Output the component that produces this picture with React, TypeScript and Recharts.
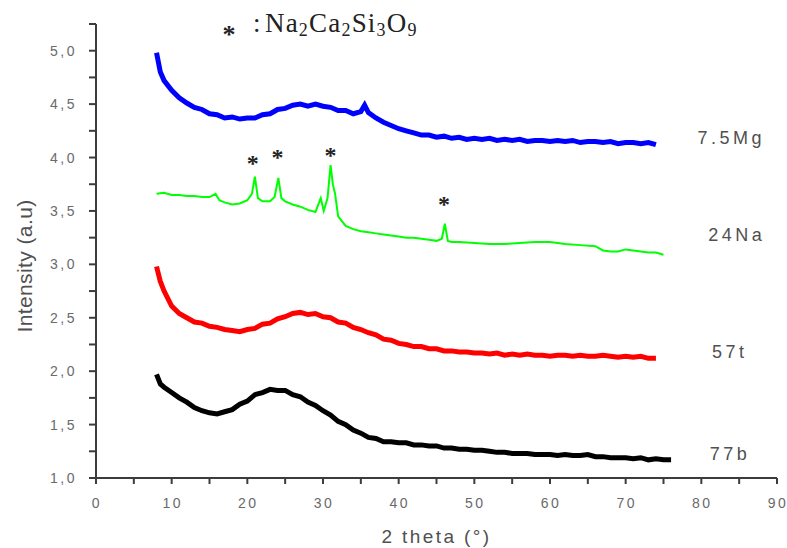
import { LineChart, Line, XAxis, YAxis, ReferenceDot } from 'recharts';

// 2 theta (deg) vs intensity (a.u)
const MG_7_5: [number, number][] = [
  [8, 4.98], [8.5, 4.8], [9, 4.72], [10, 4.63], [11, 4.56], [12, 4.51], [13, 4.47], [14, 4.45], [15, 4.41],
  [16, 4.4], [17, 4.37], [18, 4.38], [19, 4.36], [20, 4.37], [21, 4.37], [22, 4.4], [23, 4.41], [24, 4.45],
  [25, 4.46], [26, 4.49], [27, 4.5], [28, 4.48], [29, 4.5], [30, 4.48], [31, 4.47], [32, 4.44], [33, 4.44],
  [34, 4.41], [35, 4.43], [35.5, 4.49], [36, 4.42], [37, 4.37], [38, 4.33], [39, 4.3], [40, 4.27], [41, 4.25],
  [42, 4.23], [43, 4.21], [44, 4.21], [45, 4.19], [46, 4.2], [47, 4.18], [48, 4.19], [49, 4.17], [50, 4.18],
  [51, 4.17], [52, 4.18], [53, 4.16], [54, 4.17], [55, 4.16], [56, 4.17], [57, 4.15], [58, 4.16], [59, 4.16],
  [60, 4.15], [61, 4.16], [62, 4.15], [63, 4.16], [64, 4.14], [65, 4.15], [66, 4.15], [67, 4.14], [68, 4.15],
  [69, 4.13], [70, 4.14], [71, 4.14], [72, 4.13], [73, 4.14], [74, 4.12],
];

const NA_24: [number, number][] = [
  [8, 3.66], [9, 3.67], [10, 3.65], [11, 3.65], [12, 3.64], [13, 3.64], [14, 3.63], [15, 3.63], [15.8, 3.66],
  [16.3, 3.6], [17, 3.58], [18, 3.56], [19, 3.57], [20, 3.6], [20.6, 3.66], [21, 3.82], [21.4, 3.62], [22, 3.59],
  [23, 3.59], [23.6, 3.63], [24.1, 3.81], [24.5, 3.62], [25, 3.59], [26, 3.56], [27, 3.54], [28, 3.51],
  [29, 3.49], [29.7, 3.62], [30.1, 3.5], [30.6, 3.62], [31, 3.93], [31.3, 3.75], [31.6, 3.66], [32, 3.45],
  [33, 3.36], [34, 3.33], [35, 3.31], [36, 3.3], [37, 3.29], [38, 3.28], [39, 3.27], [40, 3.26], [41, 3.25],
  [42, 3.25], [43, 3.24], [44, 3.23], [45, 3.22], [45.7, 3.24], [46.1, 3.38], [46.5, 3.22], [47, 3.21],
  [48, 3.21], [50, 3.2], [52, 3.19], [54, 3.19], [56, 3.2], [58, 3.21], [60, 3.21], [62, 3.19], [64, 3.18],
  [66, 3.17], [67, 3.13], [68, 3.12], [69, 3.12], [70, 3.14], [71, 3.13], [72, 3.12], [73, 3.11], [74, 3.11],
  [75, 3.09],
];

const T_57: [number, number][] = [
  [8, 2.98], [8.5, 2.84], [9, 2.75], [10, 2.61], [11, 2.54], [12, 2.5], [13, 2.46], [14, 2.45], [15, 2.42],
  [16, 2.41], [17, 2.39], [18, 2.38], [19, 2.37], [20, 2.39], [21, 2.4], [22, 2.44], [23, 2.45], [24, 2.49],
  [25, 2.51], [26, 2.54], [27, 2.55], [28, 2.53], [29, 2.54], [30, 2.51], [31, 2.5], [32, 2.46], [33, 2.45],
  [34, 2.41], [35, 2.39], [36, 2.36], [37, 2.34], [38, 2.3], [39, 2.29], [40, 2.26], [41, 2.25], [42, 2.23],
  [43, 2.23], [44, 2.21], [45, 2.21], [46, 2.19], [47, 2.19], [48, 2.18], [49, 2.18], [50, 2.17], [51, 2.17],
  [52, 2.16], [53, 2.17], [54, 2.15], [55, 2.16], [56, 2.15], [57, 2.16], [58, 2.15], [59, 2.15], [60, 2.14],
  [61, 2.15], [62, 2.15], [63, 2.14], [64, 2.15], [65, 2.14], [66, 2.14], [67, 2.15], [68, 2.14], [69, 2.13],
  [70, 2.14], [71, 2.13], [72, 2.14], [73, 2.12], [74, 2.12],
];

const B_77: [number, number][] = [
  [8, 1.97], [8.5, 1.88], [9, 1.85], [10, 1.8], [11, 1.75], [12, 1.71], [13, 1.66], [14, 1.63], [15, 1.61],
  [16, 1.6], [17, 1.62], [18, 1.64], [19, 1.69], [20, 1.72], [21, 1.78], [22, 1.8], [23, 1.83], [24, 1.82],
  [25, 1.82], [26, 1.78], [27, 1.76], [28, 1.71], [29, 1.68], [30, 1.63], [31, 1.59], [32, 1.53], [33, 1.5],
  [34, 1.45], [35, 1.42], [36, 1.38], [37, 1.37], [38, 1.34], [39, 1.34], [40, 1.33], [41, 1.33], [42, 1.31],
  [43, 1.31], [44, 1.3], [45, 1.3], [46, 1.28], [47, 1.28], [48, 1.27], [49, 1.27], [50, 1.26], [51, 1.26],
  [52, 1.25], [53, 1.24], [54, 1.24], [55, 1.23], [56, 1.23], [57, 1.23], [58, 1.22], [59, 1.22], [60, 1.22],
  [61, 1.21], [62, 1.22], [63, 1.21], [64, 1.21], [65, 1.22], [66, 1.2], [67, 1.2], [68, 1.19], [69, 1.19],
  [70, 1.19], [71, 1.18], [72, 1.19], [73, 1.17], [74, 1.18], [75, 1.17], [76, 1.17],
];

// Na2Ca2Si3O9 peak markers (2 theta, height of the asterisk)
const PEAK_MARKS: [number, number][] = [[20.7, 3.99], [24.0, 4.04], [31.0, 4.06], [46.0, 3.6]];

// sample names placed at the right end of each pattern
const SAMPLE_NAMES = ['7.5Mg', '24Na', '57t', '77b'];
const SAMPLE_LABEL_X = [79.5, 80.9, 81.4, 81.1];
const SAMPLE_LABEL_Y = [4.185, 3.276, 2.18, 1.234];

const X_TICKS = [0, 5, 10, 15, 20, 25, 30, 35, 40, 45, 50, 55, 60, 65, 70, 75, 80, 85, 90];
const Y_TICKS = [1, 1.25, 1.5, 1.75, 2, 2.25, 2.5, 2.75, 3, 3.25, 3.5, 3.75, 4, 4.25, 4.5, 4.75, 5, 5.25];

const toPoints = (arr: [number, number][]) => arr.map(([x, y]) => ({ x, y }));

const AXIS_COLOR = '#3c3c3c';
const TICK_COLOR = '#6a6a6a';
const LABEL_COLOR = '#505050';
const SANS = 'Arial, "Liberation Sans", sans-serif';
const SERIF = '"Times New Roman", "Liberation Serif", serif';

const XTick = ({ x, y, payload }: any) =>
  payload.value % 10 === 0 ? (
    <text x={x + 1} y={y} dy={12} textAnchor="middle" fill={TICK_COLOR} fontSize={14} fontFamily={SANS} letterSpacing={2.5}>
      {payload.value}
    </text>
  ) : (
    <g />
  );

const YTick = ({ x, y, payload }: any) =>
  Number.isInteger(payload.value * 2) ? (
    <text x={x} y={y} dy={5} textAnchor="end" fill={TICK_COLOR} fontSize={14} fontFamily={SANS} letterSpacing={2.5}>
      {payload.value.toFixed(1).replace('.', ',')}
    </text>
  ) : (
    <g />
  );

const Asterisk = ({ cx, cy }: any) => (
  <text x={cx} y={cy + 12} textAnchor="middle" fontSize={24} fontWeight="bold" fill="#222" fontFamily={SERIF}>
    *
  </text>
);

const Legend = ({ cx, cy }: any) => (
  <g>
    <text x={cx - 4} y={cy + 14} textAnchor="middle" fontSize={26} fontWeight="bold" fill="#222" fontFamily={SERIF}>
      *
    </text>
    <text x={cx + 20} y={cy + 3} fontSize={27} fill="#222" fontFamily={SERIF}>
      :
    </text>
    <text x={cx + 32} y={cy + 3} fontSize={27} fill="#222" fontFamily={SERIF} letterSpacing={1.2}>
      <tspan>Na</tspan>
      <tspan fontSize={18} dy={4}>2</tspan>
      <tspan dy={-4}>Ca</tspan>
      <tspan fontSize={18} dy={4}>2</tspan>
      <tspan dy={-4}>Si</tspan>
      <tspan fontSize={18} dy={4}>3</tspan>
      <tspan dy={-4}>O</tspan>
      <tspan fontSize={18} dy={4}>9</tspan>
    </text>
  </g>
);

const sampleLabel = (name: string) => ({ cx, cy }: any) => (
  <text x={cx} y={cy + 6.5} fontSize={18} fill={LABEL_COLOR} fontFamily={SANS} letterSpacing={3.5}>
    {name}
  </text>
);

export default function App() {
  return (
    <div style={{ position: 'absolute', left: 0, top: 0, background: '#fff' }}>
      <LineChart width={787} height={548} margin={{ top: 24, right: 10, bottom: 0, left: 0 }}>
        <XAxis
          type="number"
          dataKey="x"
          domain={[0, 90]}
          ticks={X_TICKS}
          interval={0}
          height={70}
          tick={<XTick />}
          tickSize={6}
          tickMargin={12}
          stroke={AXIS_COLOR}
          strokeWidth={2}
          allowDataOverflow
          label={{
            content: ({ viewBox }: any) => (
              <text
                x={viewBox.x + viewBox.width / 2}
                y={543}
                textAnchor="middle"
                fontSize={19}
                fill={LABEL_COLOR}
                fontFamily={SANS}
                letterSpacing={2.4}
              >
                2 theta (°)
              </text>
            ),
          }}
        />
        <YAxis
          type="number"
          dataKey="y"
          domain={[1, 5.25]}
          ticks={Y_TICKS}
          interval={0}
          width={96}
          tick={<YTick />}
          tickSize={7}
          tickMargin={12}
          stroke={AXIS_COLOR}
          strokeWidth={2}
          allowDataOverflow
          label={{
            content: () => {
              const cx = 24;
              const cy = 266;
              return (
                <text
                  x={cx}
                  y={cy}
                  transform={`rotate(-90, ${cx}, ${cy})`}
                  textAnchor="middle"
                  dominantBaseline="central"
                  fontSize={21}
                  fill={LABEL_COLOR}
                  fontFamily={SANS}
                  letterSpacing={0.4}
                >
                  Intensity (a.u)
                </text>
              );
            },
          }}
        />
        <Line data={toPoints(B_77)} dataKey="y" stroke="#000000" strokeWidth={5} dot={false} isAnimationActive={false} />
        <Line data={toPoints(T_57)} dataKey="y" stroke="#ff0000" strokeWidth={5} dot={false} isAnimationActive={false} />
        <Line data={toPoints(NA_24)} dataKey="y" stroke="#00ff00" strokeWidth={2} dot={false} isAnimationActive={false} />
        <Line data={toPoints(MG_7_5)} dataKey="y" stroke="#0000ff" strokeWidth={5} dot={false} isAnimationActive={false} />
        {PEAK_MARKS.map(([x, y], i) => (
          <ReferenceDot key={`pk-${i}`} x={x} y={y} r={0} shape={<Asterisk />} ifOverflow="visible" />
        ))}
        {SAMPLE_NAMES.map((name, i) => (
          <ReferenceDot
            key={name}
            x={SAMPLE_LABEL_X[i]}
            y={SAMPLE_LABEL_Y[i]}
            r={0}
            shape={sampleLabel(name)}
            ifOverflow="visible"
          />
        ))}
        <ReferenceDot x={18.1} y={5.2} r={0} shape={<Legend />} ifOverflow="visible" />
      </LineChart>
    </div>
  );
}
